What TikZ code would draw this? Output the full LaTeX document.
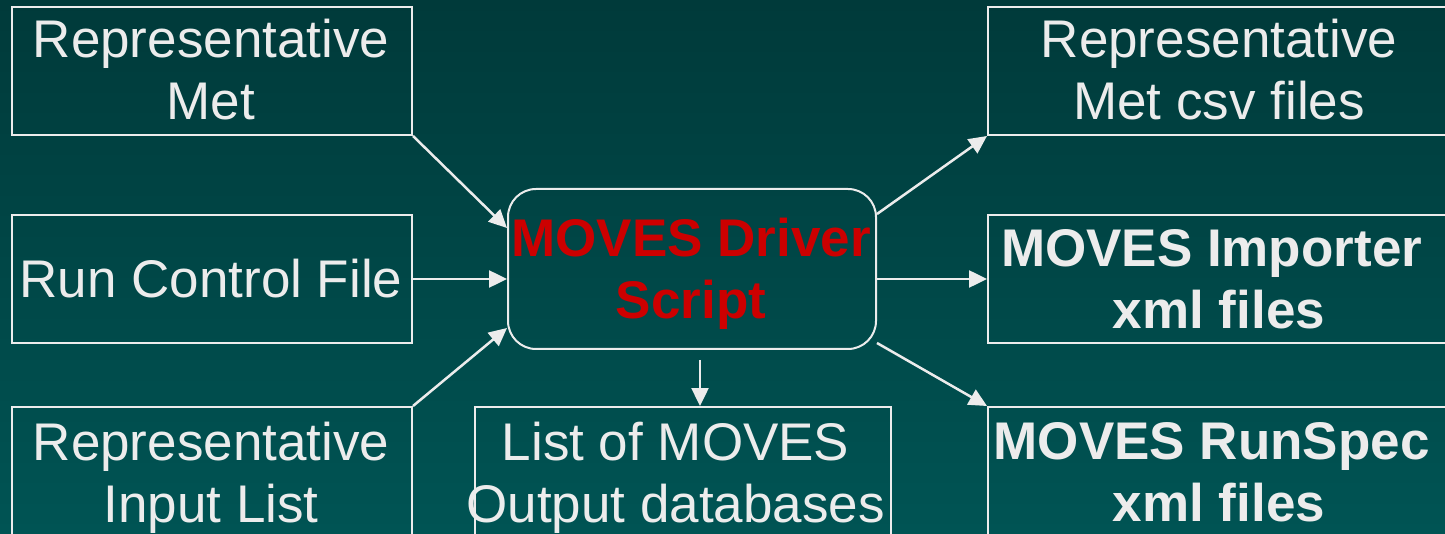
\documentclass[tikz,border=0pt]{standalone}
\usepackage{fontspec}
\setmainfont{Liberation Sans}
\usetikzlibrary{arrows.meta,calc}
\definecolor{bgtop}{RGB}{0,58,58}
\definecolor{bgbot}{RGB}{0,84,84}
\definecolor{fg}{RGB}{236,236,236}
\definecolor{drv}{RGB}{204,0,0}
\tikzset{
  box/.style={draw=fg, line width=2pt, rectangle, inner sep=0pt, anchor=north west},
  drvbox/.style={box, rounded corners=28pt},
  lbl/.style={text=fg, align=center, anchor=base, inner sep=0pt, font=\fontsize{53}{62}\selectfont},
  blbl/.style={lbl, font=\fontsize{53}{62}\selectfont\bfseries},
  rlbl/.style={blbl, text=drv},
  conn/.style={draw=fg, line width=2.5pt, -{Triangle[length=18pt,width=17pt]}},
}
\begin{document}
\begin{tikzpicture}[x=1pt,y=-1pt]
\useasboundingbox (0,0) rectangle (1445,534);
\clip (0,0) rectangle (1445,534);
\fill[top color=bgtop, bottom color=bgbot] (0,0) rectangle (1445,534);
% boxes
\node[box, minimum width=400pt, minimum height=128pt] (tl) at (11,6) {};
\node[box, minimum width=400pt, minimum height=128pt] (ml) at (11,214) {};
\node[box, minimum width=400pt, minimum height=140pt] (bl) at (11,406) {};
\node[drvbox, minimum width=368pt, minimum height=160pt] (c) at (507,188) {};
\node[box, minimum width=470pt, minimum height=128pt] (tr) at (987,6) {};
\node[box, minimum width=470pt, minimum height=128pt] (mr) at (987,214) {};
\node[box, minimum width=470pt, minimum height=140pt] (br) at (987,406) {};
\node[box, minimum width=416pt, minimum height=140pt] (bc) at (474,406) {};
% labels (anchor base = baseline of the last line)
\node[lbl] (tlT) at (211,120) {Representative\\Met};
\node[lbl] (mlT) at (211,298) {Run Control File};
\node[lbl] (blT) at (211,522) {Representative\\Input List};
\node[rlbl] (cT) at (691,319) {MOVES Driver\\Script};
\node[lbl] (trT) at (1219,120) {Representative\\Met csv files};
\node[blbl] (mrT) at (1219,329) {MOVES Importer\kern.28em\\xml files};
\node[blbl] (brT) at (1219,521) {MOVES RunSpec\kern.28em\\xml files};
\node[lbl] (bcT) at (683,522) {List of MOVES\kern.28em\\Output databases\kern.28em};
% connectors
\draw[conn] (tl.south east) -- ($(c.west)+(0,-41)$);
\draw[conn] (ml.east) -- (ml.east -| c.west);
\draw[conn] (bl.north east) -- ($(c.west)+(0,59)$);
\draw[conn] ($(c.east)+(0,-55)$) -- (tr.south west);
\draw[conn] (mr.west -| c.east) -- (mr.west);
\draw[conn] ($(c.east)+(0,74)$) -- (br.north west);
\coordinate (d) at ($(c.south)+(8,10)$);
\draw[conn] (d) -- (d |- bc.north);
\end{tikzpicture}
\end{document}
